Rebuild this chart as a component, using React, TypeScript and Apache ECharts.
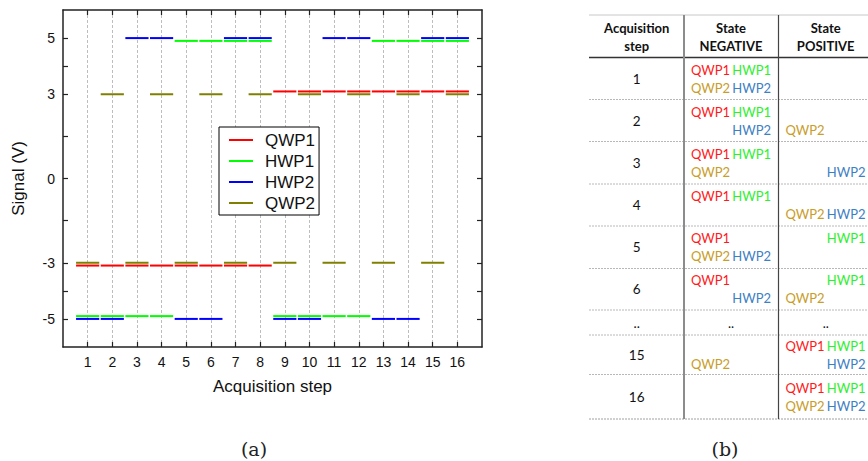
import React, { useEffect, useRef } from "react";
import * as echarts from "echarts";

// ---- chart data (a) ----
const steps = [1, 2, 3, 4, 5, 6, 7, 8, 9, 10, 11, 12, 13, 14, 15, 16];
const qwp1 = [-3.1, -3.1, -3.1, -3.1, -3.1, -3.1, -3.1, -3.1, 3.1, 3.1, 3.1, 3.1, 3.1, 3.1, 3.1, 3.1];
const hwp1 = [-4.9, -4.9, -4.9, -4.9, 4.9, 4.9, 4.9, 4.9, -4.9, -4.9, -4.9, -4.9, 4.9, 4.9, 4.9, 4.9];
const hwp2 = [-5, -5, 5, 5, -5, -5, 5, 5, -5, -5, 5, 5, -5, -5, 5, 5];
const qwp2 = [-3, 3, -3, 3, -3, 3, -3, 3, -3, 3, -3, 3, -3, 3, -3, 3];
const seriesNames = ["QWP1", "HWP1", "HWP2", "QWP2"];
const seriesColors = ["#ff0000", "#00ff00", "#0000ff", "#808000"];
const yLabelValues = [-5, -3, 0, 3, 5];
const yTickValues = [-5, -4, -3, -1.5, 0, 1.5, 3, 4, 5];

// ---- table data (b) ----
const tableHeader = ["Acquisition\nstep", "State\nNEGATIVE", "State\nPOSITIVE"];
const tableSteps = ["1", "2", "3", "4", "5", "6", "..", "15", "16"];
const tableNegative: (string[] | string)[] = [
  ["QWP1", "HWP1", "QWP2", "HWP2"],
  ["QWP1", "HWP1", "HWP2"],
  ["QWP1", "HWP1", "QWP2"],
  ["QWP1", "HWP1"],
  ["QWP1", "QWP2", "HWP2"],
  ["QWP1", "HWP2"],
  "..",
  ["QWP2"],
  [],
];
const tablePositive: (string[] | string)[] = [
  [],
  ["QWP2"],
  ["HWP2"],
  ["QWP2", "HWP2"],
  ["HWP1"],
  ["HWP1", "QWP2"],
  "..",
  ["QWP1", "HWP1", "HWP2"],
  ["QWP1", "HWP1", "QWP2", "HWP2"],
];
const tableColors: Record<string, string> = {
  QWP1: "#ff1a1a",
  HWP1: "#2ef02e",
  QWP2: "#c99d28",
  HWP2: "#3d7fc4",
};

export default function App() {
  const ref = useRef<HTMLDivElement>(null);

  useEffect(() => {
    if (!ref.current) return;
    const chart = echarts.init(ref.current, undefined, { renderer: "svg" });

    const mk = (vals: number[]) => steps.map((s, i) => [s, vals[i]]);
    const allVals = [qwp1, hwp1, hwp2, qwp2];

    const series = seriesNames.map((name, k) => ({
      name,
      type: "custom",
      xAxisIndex: 0,
      yAxisIndex: 0,
      encode: { x: 0, y: 1 },
      data: mk(allVals[k]),
      itemStyle: { color: seriesColors[k] },
      renderItem: (params: any, api: any) => {
        const x = api.value(0);
        const y = api.value(1);
        const p1 = api.coord([x - 0.47, y]);
        const p2 = api.coord([x + 0.47, y]);
        return {
          type: "line",
          shape: { x1: p1[0], y1: p1[1], x2: p2[0], y2: p2[1] },
          style: { stroke: seriesColors[k], lineWidth: 2 },
        };
      },
    }));

    // ---- table graphics ----
    const g: any[] = [];
    const tx = (text: string, x: number, y: number, fill: string, align: string, font: string) => ({
      type: "text",
      x,
      y,
      silent: true,
      style: {
        text,
        fill,
        font,
        align,
        verticalAlign: "middle",
        textAlign: align,
        textVerticalAlign: "middle",
      },
    });
    const ln = (x1: number, y1: number, x2: number, y2: number, stroke: string, lineWidth: number, lineDash?: number[]) => ({
      type: "line",
      silent: true,
      shape: { x1, y1, x2, y2 },
      style: { stroke, lineWidth, lineDash },
    });

    const tLeft = 589;
    const tRight = 868;
    const tTop = 15;
    const headBottom = 57.5;
    const rowLines = [headBottom, 99.5, 141.5, 184, 226, 268.5, 310, 335, 374.5, 419];
    const colX = [589, 684, 778.5, 873];
    const colCenters = [636.7, 731, 825.7];

    g.push(ln(tLeft, tTop, tRight, tTop, "#c8c8c8", 1));
    g.push(ln(tLeft, headBottom, tRight, headBottom, "#333333", 1.5));
    for (let i = 1; i < rowLines.length - 1; i++) {
      g.push(ln(tLeft, rowLines[i], tRight, rowLines[i], "#b8b8b8", 1, [2, 1]));
    }
    g.push(ln(tLeft, rowLines[rowLines.length - 1], tRight, rowLines[rowLines.length - 1], "#a0a0a0", 1, [2, 1]));
    g.push(ln(colX[1], tTop, colX[1], 419, "#8c8c8c", 2));
    g.push(ln(colX[2], tTop, colX[2], 419, "#444444", 1.2));

    tableHeader.forEach((h, c) => {
      const lines = h.split("\n");
      g.push(tx(lines[0], colCenters[c], 27.5, "#111", "center", "bold 13px Lato"));
      g.push(tx(lines[1], colCenters[c], 45.5, "#111", "center", "bold 13px Lato"));
    });

    const slot: Record<string, { right: boolean; dy: number }> = {
      QWP1: { right: false, dy: -9 },
      HWP1: { right: true, dy: -9 },
      QWP2: { right: false, dy: 9 },
      HWP2: { right: true, dy: 9 },
    };
    const cellFont = "13px Lato";
    tableSteps.forEach((s, r) => {
      const cy = (rowLines[r] + rowLines[r + 1]) / 2;
      g.push(tx(s, colCenters[0], cy, "#111", "center", "13.5px Lato"));
      [tableNegative[r], tablePositive[r]].forEach((cell, ci) => {
        const c = ci + 1;
        if (typeof cell === "string") {
          g.push(tx(cell, colCenters[c], cy, "#111", "center", cellFont));
          return;
        }
        cell.forEach((item) => {
          const sl = slot[item];
          const x = sl.right ? colX[c + 1] - 7.5 : colX[c] + 7;
          g.push(tx(item, x, cy + sl.dy, tableColors[item], sl.right ? "right" : "left", cellFont));
        });
      });
    });

    g.push(tx("(a)", 254, 449, "#222", "center", "19px 'DejaVu Serif'"));
    g.push(tx("(b)", 725, 449, "#222", "center", "19px 'DejaVu Serif'"));

    const axisLine = { show: true, onZero: false, lineStyle: { color: "#222", width: 1.5 } };
    const tickStyle = { lineStyle: { color: "#222", width: 1.2 } };
    const labelFont = { fontFamily: "'Liberation Sans', Arial, sans-serif", fontSize: 14, color: "#111" };

    chart.setOption({
      animation: false,
      backgroundColor: "#ffffff",
      grid: { left: 63, top: 10, width: 419, height: 337, containLabel: false },
      legend: {
        orient: "vertical",
        left: 219,
        top: 127,
        data: seriesNames.map((n) => ({ name: n, icon: "rect" })),
        itemWidth: 24,
        itemHeight: 2,
        itemGap: 1,
        padding: [3, 4, 2, 10],
        borderColor: "#000",
        borderWidth: 1,
        backgroundColor: "#fff",
        selectedMode: false,
        textStyle: {
          fontFamily: "'Liberation Sans', Arial, sans-serif",
          fontSize: 17,
          lineHeight: 20,
          color: "#111",
          padding: [0, 0, 0, 7],
        },
      },
      xAxis: [
        {
          type: "value",
          min: 0,
          max: 17,
          interval: 1,
          name: "Acquisition step",
          nameLocation: "middle",
          nameGap: 31,
          nameTextStyle: { fontFamily: "'Liberation Sans', Arial, sans-serif", fontSize: 17, color: "#111" },
          axisLine,
          axisTick: { show: true, inside: true, length: 5, customValues: steps, ...tickStyle },
          axisLabel: { show: true, margin: 8, customValues: steps, ...labelFont },
          splitLine: { show: true, lineStyle: { color: "#bdbdbd", type: [3, 2], width: 1 } },
        },
        {
          type: "value",
          position: "top",
          min: 0,
          max: 17,
          interval: 1,
          axisLine,
          axisTick: { show: true, inside: true, length: 5, customValues: steps, ...tickStyle },
          axisLabel: { show: false },
          splitLine: { show: false },
        },
      ],
      yAxis: [
        {
          type: "value",
          min: -6,
          max: 6,
          interval: 0.5,
          name: "Signal (V)",
          nameLocation: "middle",
          nameGap: 36,
          nameRotate: 90,
          nameTextStyle: { fontFamily: "'Liberation Sans', Arial, sans-serif", fontSize: 17, color: "#111" },
          axisLine,
          axisTick: { show: true, inside: true, length: 5, customValues: yTickValues, ...tickStyle },
          axisLabel: { show: true, margin: 8, customValues: yLabelValues, ...labelFont },
          splitLine: { show: false },
        },
        {
          type: "value",
          position: "right",
          min: -6,
          max: 6,
          interval: 0.5,
          axisLine,
          axisTick: { show: true, inside: true, length: 5, customValues: yTickValues, ...tickStyle },
          axisLabel: { show: false },
          splitLine: { show: false },
        },
      ],
      series,
      graphic: { elements: g },
    });

    return () => chart.dispose();
  }, []);

  return (
    <div
      ref={ref}
      style={{ position: "fixed", left: 0, top: 0, width: 868, height: 461, background: "#fff" }}
    />
  );
}
